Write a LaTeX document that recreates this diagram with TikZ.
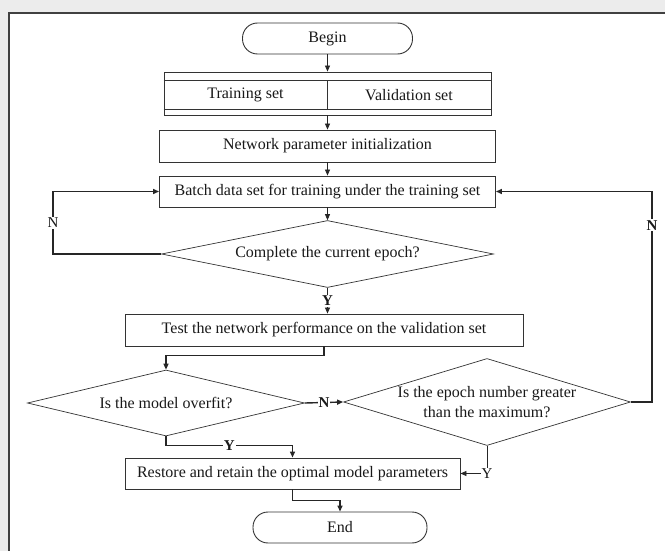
\documentclass[tikz,border=0pt]{standalone}
\usepackage{fontspec}
\setmainfont{Liberation Serif}
\usetikzlibrary{
    shapes.geometric,
    arrows.meta,
    positioning,
    calc
}

\begin{document}
\begin{tikzpicture}[
        x=1pt, y=-1pt,
        every node/.style={font=\fontsize{16}{20}\selectfont, text=black!90},
        box/.style={rectangle, draw=black!80, line width=0.9pt, inner sep=0pt},
        terminal/.style={rectangle, rounded corners=15pt, draw=black!80, line width=0.9pt, inner sep=0pt, minimum width=170pt, minimum height=31pt},
        decision/.style={diamond, draw=black!80, line width=0.7pt, inner sep=0pt, align=center},
        arrow/.style={-{Triangle[length=6pt,width=5pt]}, line width=0.8pt, draw=black!85},
        loopline/.style={-{Triangle[length=6pt,width=5pt]}, line width=1.4pt, draw=black!85},
        lbl/.style={fill=white, inner sep=1pt, font=\fontsize{15}{15}\selectfont}
    ]
    % background and panel
    \useasboundingbox (0,0) rectangle (665,551);
    \fill[gray!15] (0,0) rectangle (665,551);
    \fill[white] (9,13) rectangle (665,551);
    \draw[black!75, line width=1.2pt] (9,551) -- (9,13) -- (665,13);

    \node[terminal] (begin) at (327.5,38.5) {Begin};

    \node[box, minimum width=327pt, minimum height=43pt] (split) at (327.5,93.5) {};
    \draw[black!80, line width=0.9pt]
        ([yshift=-9pt]split.north west) -- ([yshift=-9pt]split.north east)
        ([yshift=6pt]split.south west) -- ([yshift=6pt]split.south east)
        ([yshift=-9pt]split.north) -- ([yshift=6pt]split.south);
    \node (train) at (245.5,95) {Training set};
    \node (valid) at (409,95) {Validation set};

    \node[box, minimum width=336pt, minimum height=32pt] (init) at (327.5,146) {Network parameter initialization};
    \node[box, minimum width=336pt, minimum height=31pt] (batch) at (327.5,191.5) {Batch data set for training under the training set};
    \node[decision, aspect=5, minimum width=332pt, minimum height=67pt] (epochdone) at (327.5,254) {Complete the current epoch?};
    \node[box, minimum width=398pt, minimum height=32pt] (test) at (324,330) {Test the network performance on the validation set};
    \node[decision, aspect=4.2, minimum width=277pt, minimum height=66pt] (overfit) at (166,403) {Is the model overfit?};
    \node[decision, aspect=3.3, inner xsep=-12pt, inner ysep=-4pt, minimum width=287pt, minimum height=87pt] (epochmax) at (487,402) {Is the epoch number greater\\than the maximum?};
    \node[box, minimum width=335pt, minimum height=31pt] (restore) at (292.5,473.5) {Restore and retain the optimal model parameters};
    \node[terminal, minimum width=174pt] (end) at (340,527.5) {End};

    \coordinate (lcol) at (53,0);
    \coordinate (rcol) at (652,0);

    \draw[arrow] (begin) -- (split);
    \draw[arrow] (split) -- (init);
    \draw[arrow] (init) -- (batch);
    \draw[arrow] (batch) -- (epochdone);
    \draw[arrow] (epochdone.south) -- node[lbl, font=\fontsize{15}{15}\selectfont\bfseries] {Y} (epochdone.south |- test.north);
    \draw[loopline] (epochdone.west) -- (epochdone.west -| lcol) |- node[pos=0.25, lbl] {N} (batch.west);
    \draw[loopline] (test.south) -- ++(0,9) -| (overfit.north);
    \draw[loopline] (overfit.east) -- node[lbl, font=\fontsize{15}{15}\selectfont\bfseries] {N} (epochmax.west);
    \draw[loopline] (epochmax.east) -- (epochmax.east -| rcol) |- node[pos=0.42, lbl, font=\fontsize{15}{15}\selectfont\bfseries] {N} (batch.east);
    \draw[arrow] (epochmax.south) |- node[pos=0.5, lbl] {Y} (restore.east);
    \draw[loopline] (overfit.south) -- ++(0,9) -| node[pos=0.25, lbl, font=\fontsize{15}{15}\selectfont\bfseries] {Y} (restore.north);
    \draw[loopline] (restore.south) -- ++(0,11) -| (end.north);
\end{tikzpicture}
\end{document}
